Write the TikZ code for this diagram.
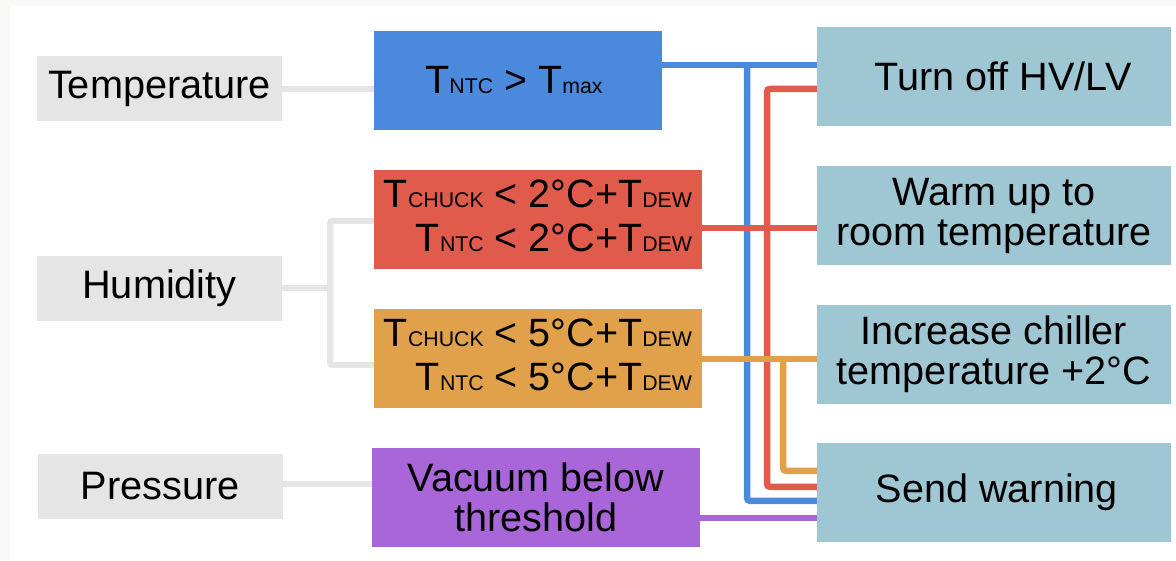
\documentclass[tikz,border=0pt]{standalone}
\usepackage{fontspec}
\setmainfont{Liberation Sans}
\usetikzlibrary{calc}
\definecolor{bgc}{HTML}{F8F8F6}
\definecolor{greyc}{HTML}{E5E5E5}
\definecolor{bluec}{HTML}{4A89DC}
\definecolor{redc}{HTML}{E05B4B}
\definecolor{orangec}{HTML}{E0A14A}
\definecolor{purplec}{HTML}{A966D8}
\definecolor{actc}{HTML}{9EC6D3}
\newcommand{\subtx}[1]{{\fontsize{21.3}{21.3}\selectfont #1}}
\begin{document}
\begin{tikzpicture}[x=1pt,y=-1pt,
  srcbox/.style={fill=greyc, minimum width=245pt, minimum height=65pt, inner sep=0pt,
    font=\fontsize{39.7}{40}\selectfont},
  condbox/.style={minimum width=328pt, minimum height=99pt, inner sep=0pt,
    font=\fontsize{39.5}{44}\selectfont},
  twoline/.style={align=right, text depth=7pt},
  actbox/.style={fill=actc, minimum width=354pt, minimum height=99pt, inner sep=0pt,
    align=center, font=\fontsize{39.6}{40}\selectfont},
  wire/.style={line width=6.5pt, rounded corners=3pt},
  gwire/.style={line width=6pt, draw=greyc, rounded corners=2pt}]
\useasboundingbox (0,0) rectangle (1176,560);
\fill[bgc] (0,0) rectangle (1176,560);
\fill[white] (10,6) rectangle (1176,560);

% source boxes
\node[srcbox] (temp) at (159.5,88.5) {Temperature};
\node[srcbox] (hum) at (159.5,288) {Humidity};
\node[srcbox] (press) at (160,486) {Pressure};

% condition boxes
\node[condbox, fill=bluec, minimum width=288pt] (blue) at (518,80.5)
  {\hspace*{-8pt}T\subtx{NTC} > T\subtx{max}};
\node[condbox, fill=redc, twoline] (red) at (538,219.5)
  {T\subtx{CHUCK} < 2°C+T\subtx{DEW}\\T\subtx{NTC} < 2°C+T\subtx{DEW}};
\node[condbox, fill=orangec, twoline] (orange) at (538,358.5)
  {T\subtx{CHUCK} < 5°C+T\subtx{DEW}\\T\subtx{NTC} < 5°C+T\subtx{DEW}};
\node[condbox, fill=purplec, align=center, font=\fontsize{39.6}{40}\selectfont] (purple) at (536,497.5)
  {Vacuum below\\threshold};

% action boxes
\node[actbox] (off) at (994,76.5) {\hspace*{18pt}Turn off HV/LV};
\node[actbox] (warm) at (994,215.5) {Warm up to\\room temperature};
\node[actbox] (chill) at (994,354.5) {Increase chiller\\temperature +2°C};
\node[actbox] (warn) at (994,492.5) {\hspace*{6pt}Send warning};

% grey connectors
\coordinate (hj) at ($(hum.east)+(48,0)$);
\coordinate (rW) at ($(red.north west)+(0,51)$);
\coordinate (oW) at ($(orange.north west)+(0,56)$);
\draw[gwire] (temp.east) -- (temp.east -| blue.west);
\draw[gwire] (hum.east) -- (hj);
\draw[gwire] (rW) -| (oW -| hj) -- (oW);
\draw[gwire] ([yshift=2.5pt]press.east) -- ([yshift=2.5pt]press.east -| purple.west);

% bus coordinates
\coordinate (bA) at ($(blue.north east)+(0,34)$);
\coordinate (bB) at ($(warn.north west)+(0,58)$);
\coordinate (rA) at ($(off.north west)+(0,62)$);
\coordinate (rB) at ($(warn.north west)+(0,44)$);
\coordinate (rM) at ($(red.north east)+(0,58)$);
\coordinate (oA) at ($(orange.east)+(0,0.5)$);
\coordinate (oB) at ($(warn.north west)+(0,28)$);
\coordinate (pA) at ($(purple.north east)+(0,70)$);
\coordinate (bx) at (747,0);
\coordinate (rx) at (767,0);
\coordinate (ox) at (783,0);

% vertical buses
\draw[wire, bluec] (bA -| bx) |- (bB);
\draw[wire, redc] (rA) -| (rB -| rx) -- (rB);
\draw[wire, orangec] (oA -| ox) |- (oB);

% horizontal connectors
\draw[wire, bluec] (bA) -- (bA -| off.west);
\draw[wire, redc] (rM) -- (rM -| warm.west);
\draw[wire, orangec] (oA) -- (oA -| chill.west);
\draw[wire, purplec] (pA) -- (pA -| warn.west);
\end{tikzpicture}
\end{document}
